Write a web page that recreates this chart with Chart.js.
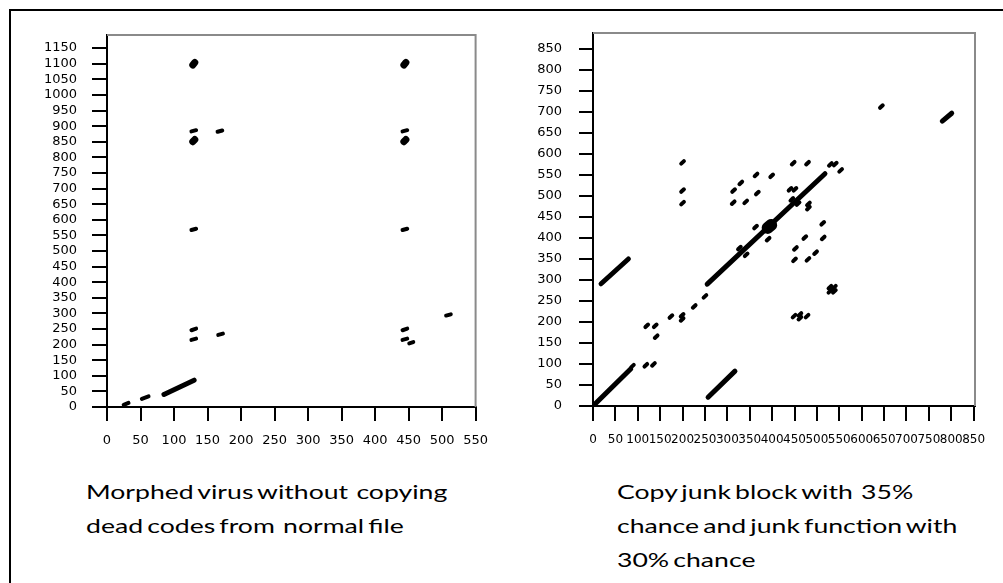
<!DOCTYPE html>
<html><head><meta charset="utf-8">
<script src="https://cdn.jsdelivr.net/npm/chart.js@4/dist/chart.umd.min.js"></script>
<style>
html,body{margin:0;padding:0;background:#fff;width:1003px;height:583px;overflow:hidden;}
#frame{position:absolute;left:9px;top:9px;width:1100px;height:700px;border-left:2px solid #000;border-top:2px solid #000;}
canvas{position:absolute;}
.cap{position:absolute;font-family:Lato,"Open Sans",sans-serif;font-size:20px;color:#000;white-space:pre;line-height:34px;transform:scaleX(1.33);transform-origin:0 0;word-spacing:-2px;}
</style></head><body>
<div id="frame"></div>
<canvas id="c1" width="500" height="470" style="left:0;top:0;width:500px;height:470px"></canvas>
<canvas id="c2" width="500" height="470" style="left:500px;top:0;width:500px;height:470px"></canvas>
<div class="cap" id="cap1" style="left:86px;top:474px"></div>
<div class="cap" id="cap2" style="left:617px;top:474px"></div>
<script>
// ---- data ----
const leftYTicks = [0,50,100,150,200,250,300,350,400,450,500,550,600,650,700,750,800,850,900,950,1000,1050,1100,1150];
const leftXTicks = [0,50,100,150,200,250,300,350,400,450,500,550];
const rightYTicks = [0,50,100,150,200,250,300,350,400,450,500,550,600,650,700,750,800,850];
const rightXTicks = [0,50,100,150,200,250,300,350,400,450,500,550,600,650,700,750,800,850];

// segments: [x1, y1, x2, y2]
const leftLines = [[85,40,130,86]];
const leftBlobs = [[128,1096,131,1104],[443,1096,446,1104],[128,850,131,857],[443,850,446,857]];
const leftDashes = [
  [126,883,133,887],[165,882,172,886],[441,883,448,887],
  [126,567,133,571],[441,567,448,571],
  [126,246,133,251],[126,215,133,219],[166,231,173,235],
  [441,246,448,251],[441,215,448,219],[451,204,457,208],[506,293,513,297],
  [52,26,62,34],[25,7,32,13]
];

const rightLines = [[0,0,84,88],[18,291,79,350],[255,290,518,553],[257,21,317,83],[780,678,801,697]];
const rightBlobs = [[390,424,398,431]];
// dot centers: [x, y]
const rightDots = [
  [644,713],[200,580],[200,513],[200,483],[314,513],[330,531],[364,550],[399,548],[367,507],[313,484],[341,486],
  [447,578],[479,578],[530,575],[541,576],[553,561],[440,516],[451,516],[444,492],[458,482],[481,481],[481,471],
  [363,426],[391,397],[327,376],[342,360],[513,435],[473,401],[514,400],[452,375],[497,365],[450,348],[480,349],
  [250,261],[226,237],[174,213],[199,216],[199,206],[120,191],[139,191],[141,165],[118,97],[135,99],[88,95],
  [449,214],[462,218],[462,209],[478,214],
  [529,283],[539,283],[529,273],[539,273]
];

const caption1 = ["Morphed virus without  copying","dead codes from  normal file"];
const caption2 = ["Copy junk block with  35%","chance and junk function with","30% chance"];

// ---- helpers ----
function segDatasets(segs, width){
  return segs.map(s => ({
    data:[{x:s[0],y:s[1]},{x:s[2],y:s[3]}],
    showLine:true, borderColor:'#000', backgroundColor:'#000',
    borderWidth:width, borderCapStyle:'round', pointRadius:0, pointHoverRadius:0, fill:false
  }));
}
function dotSegs(centers, d){
  return centers.map(c => [c[0]-d, c[1]-d, c[0]+d, c[1]+d]);
}
const framePlugin = {
  id:'frameBox',
  beforeDatasetsDraw(chart){
    const {ctx, chartArea:a} = chart;
    ctx.save(); ctx.strokeStyle='#8a8a8a'; ctx.lineWidth=2;
    ctx.beginPath(); ctx.moveTo(a.left, a.top); ctx.lineTo(a.right, a.top); ctx.lineTo(a.right, a.bottom); ctx.stroke();
    ctx.restore();
  }
};
function makeChart(id, datasets, o){
  return new Chart(document.getElementById(id), {
    type:'scatter',
    data:{datasets},
    plugins:[framePlugin],
    options:{
      responsive:false, animation:false, events:[],
      layout:{padding:{left:0, top:o.padTop, right:o.padRight, bottom:0}},
      plugins:{legend:{display:false}, tooltip:{enabled:false}},
      scales:{
        x:{type:'linear', min:0, max:o.xMax,
          afterBuildTicks:s=>{s.ticks=o.xTicks.map(v=>({value:v}));},
          afterFit:s=>{s.height=o.xH;},
          grid:{drawOnChartArea:false, drawTicks:true, tickLength:o.xTickLen, tickColor:'#000', tickWidth:2, color:'#000', lineWidth:2},
          border:{display:true, color:'#000', width:2},
          ticks:{autoSkip:false, maxRotation:0, minRotation:0, padding:o.xPad, color:'#000',
                 font:{family:'DejaVu Sans', size:o.xFont}, callback:v=>String(v)}
        },
        y:{type:'linear', min:0, max:o.yMax,
          afterBuildTicks:s=>{s.ticks=o.yTicks.map(v=>({value:v}));},
          afterFit:s=>{s.width=o.yW;},
          grid:{drawOnChartArea:false, drawTicks:true, tickLength:o.yTickLen, tickColor:'#000', tickWidth:2, color:'#000', lineWidth:2},
          border:{display:true, color:'#000', width:2},
          ticks:{autoSkip:false, padding:o.yPad, color:'#000', font:{family:'DejaVu Sans', size:13}, callback:v=>String(v)}
        }
      }
    }
  });
}

makeChart('c1',
  [].concat(segDatasets(leftLines,5), segDatasets(leftBlobs,7), segDatasets(leftDashes,4)),
  {padTop:35, padRight:14, xMax:550, yMax:1192, xTicks:leftXTicks, yTicks:leftYTicks,
   xH:63, yW:107, xTickLen:14, yTickLen:15, xPad:12, yPad:15, xFont:13});

makeChart('c2',
  [].concat(segDatasets(rightLines,5), segDatasets(rightBlobs,12), segDatasets(dotSegs(rightDots,3),4)),
  {padTop:33, padRight:25, xMax:853, yMax:888, xTicks:rightXTicks, yTicks:rightYTicks,
   xH:64, yW:93, xTickLen:15, yTickLen:14, xPad:12, yPad:17, xFont:12});

document.getElementById('cap1').textContent = caption1.join('\n');
document.getElementById('cap2').textContent = caption2.join('\n');
</script>
</body></html>
